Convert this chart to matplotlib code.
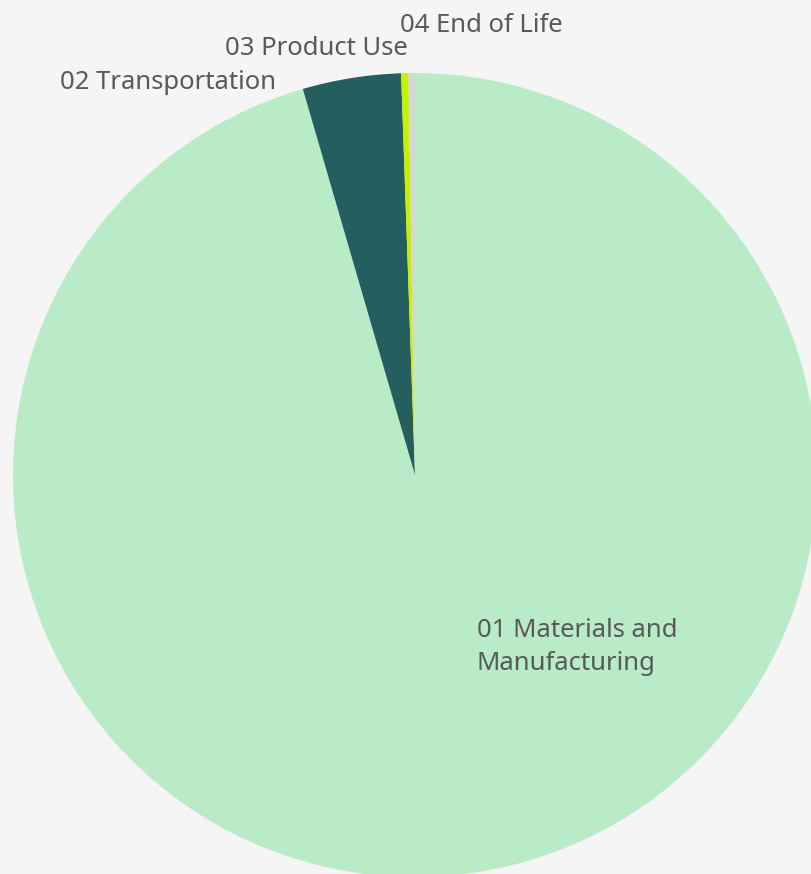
import numpy as np
from matplotlib import pyplot as plt

labels = ['01 Materials and\nManufacturing', '02 Transportation', '03 Product Use', '04 End of Life']
shares = [95.5, 3.95, 0.29, 0.26]
colors = ['#b9ebc7', '#245e5e', '#c5f000', '#d6d6d6']

plt.rcParams['font.family'] = ['Noto Sans', 'DejaVu Sans']

fig = plt.figure(figsize=(8.11, 8.74), dpi=100)
fig.patch.set_facecolor('#f5f5f5')
ax = fig.add_axes([0, 0, 1, 1])
ax.set_facecolor('#f5f5f5')

wedges, _ = ax.pie(shares, colors=colors, startangle=90, counterclock=False,
                   radius=1.0, wedgeprops=dict(linewidth=0))

# pie centre sits at pixel (415, 475), radius 402 px
r_px = 402.0
ax.set_xlim(-415 / r_px, (811 - 415) / r_px)
ax.set_ylim(-(874 - 475) / r_px, 475 / r_px)
ax.set_aspect('auto')
ax.axis('off')

txt = dict(color='#595959', fontsize=18.5, va='center')
ax.text(0.153, -0.428, labels[0], ha='left', linespacing=1.42, **txt)
ax.text(-0.883, 0.976, labels[1], ha='left', **txt)
ax.text(-0.018, 1.062, labels[2], ha='right', **txt)
ax.text(-0.038, 1.119, labels[3], ha='left', **txt)

fig.savefig('out.png', dpi=100, facecolor=fig.get_facecolor())
